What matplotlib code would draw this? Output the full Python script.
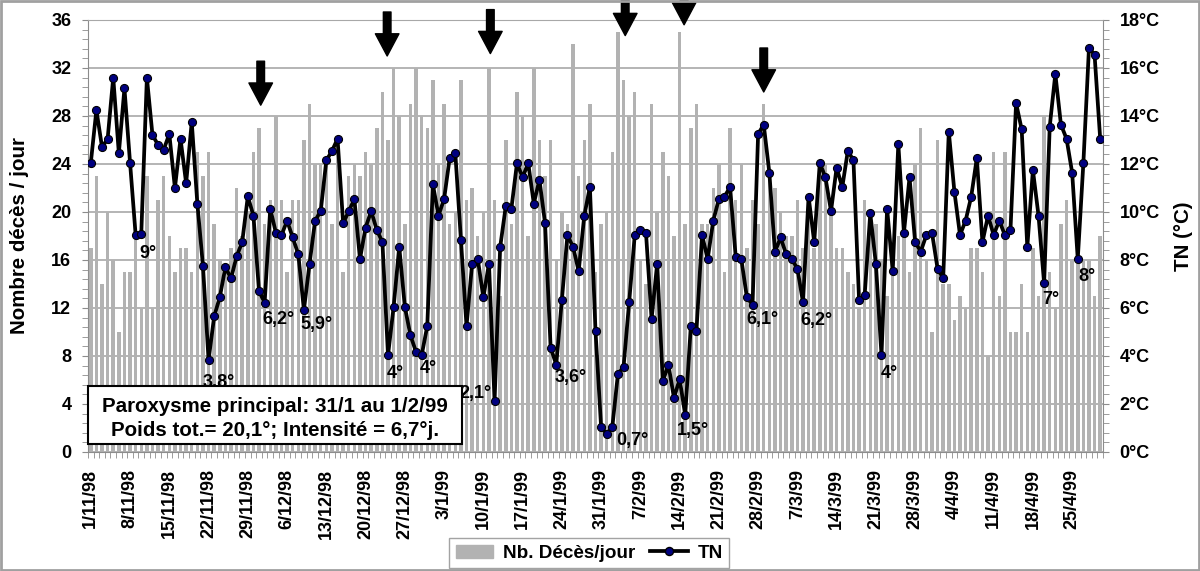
import numpy as np
import matplotlib
matplotlib.use("Agg")
import matplotlib.pyplot as plt
from matplotlib.ticker import MultipleLocator, FixedLocator
from matplotlib.patches import Patch, Rectangle
from matplotlib.lines import Line2D

plt.rcParams['font.family'] = ['Liberation Sans', 'DejaVu Sans']
plt.rcParams['font.weight'] = 'bold'

# deaths per day, 1/11/98 .. 30/4/99
deaths = [17, 23, 14, 20, 16, 10, 15, 15, 18, 12,
          23, 12, 21, 23, 18, 15, 17, 17, 15, 25,
          23, 25, 19, 16, 15, 17, 22, 18, 20, 25,
          27, 19, 21, 28, 21, 15, 21, 21, 26, 29,
          24, 24, 24, 19, 25, 15, 23, 24, 23, 25,
          24, 27, 30, 26, 32, 28, 19, 29, 32, 28,
          27, 31, 24, 29, 19, 20, 31, 21, 22, 18,
          20, 32, 21, 13, 26, 19, 30, 28, 18, 32,
          26, 23, 26, 16, 20, 19, 34, 23, 26, 29,
          15, 19, 20, 25, 35, 31, 28, 30, 16, 14,
          29, 20, 25, 23, 18, 35, 19, 27, 29, 19,
          19, 22, 24, 15, 27, 21, 24, 17, 21, 19,
          29, 23, 22, 20, 18, 18, 21, 17, 21, 17,
          24, 24, 20, 17, 17, 15, 14, 12, 21, 20,
          19, 16, 13, 16, 18, 18, 15, 24, 27, 16,
          10, 26, 14, 14, 11, 13, 12, 17, 17, 15,
          8, 25, 13, 25, 10, 10, 14, 10, 17, 13,
          28, 15, 12, 19, 21, 16, 16, 16, 16, 13,
          18]

# minimum temperature (°C)
tn = [12.05, 14.25, 12.7, 13.05, 15.6, 12.45, 15.15, 12.05, 9.03, 9.1,
      15.6, 13.2, 12.8, 12.6, 13.25, 11.0, 13.05, 11.2, 13.75, 10.35,
      7.75, 3.83, 5.65, 6.45, 7.7, 7.23, 8.15, 8.75, 10.65, 9.85,
      6.7, 6.22, 10.14, 9.14, 9.03, 9.64, 8.94, 8.24, 5.92, 7.83,
      9.64, 10.04, 12.15, 12.54, 13.05, 9.53, 10.04, 10.54, 8.04, 9.35,
      10.04, 9.25, 8.75, 4.03, 6.05, 8.55, 6.05, 4.86, 4.17, 4.03,
      5.25, 11.15, 9.85, 10.54, 12.25, 12.45, 8.85, 5.25, 7.85, 8.05,
      6.44, 7.85, 2.12, 8.54, 10.24, 10.14, 12.04, 11.44, 12.04, 10.35,
      11.35, 9.54, 4.35, 3.64, 6.33, 9.04, 8.54, 7.54, 9.85, 11.04,
      5.04, 1.05, 0.75, 1.05, 3.25, 3.54, 6.24, 9.04, 9.25, 9.14,
      5.54, 7.85, 2.94, 3.64, 2.25, 3.04, 1.54, 5.25, 5.04, 9.04,
      8.04, 9.64, 10.54, 10.64, 11.04, 8.14, 8.04, 6.44, 6.14, 13.25,
      13.64, 11.64, 8.33, 8.94, 8.24, 8.04, 7.64, 6.24, 10.64, 8.75,
      12.05, 11.44, 10.04, 11.85, 11.03, 12.55, 12.15, 6.33, 6.54, 9.94,
      7.83, 4.03, 10.14, 7.54, 12.83, 9.14, 11.44, 8.75, 8.35, 9.04,
      9.14, 7.64, 7.23, 13.35, 10.85, 9.04, 9.64, 10.64, 12.25, 8.74,
      9.85, 9.04, 9.64, 9.04, 9.25, 14.54, 13.44, 8.54, 11.75, 9.85,
      7.03, 13.56, 15.75, 13.64, 13.05, 11.64, 8.04, 12.04, 16.85, 16.54,
      13.05]

date_labels = ["1/11/98", "8/11/98", "15/11/98", "22/11/98", "29/11/98",
               "6/12/98", "13/12/98", "20/12/98", "27/12/98", "3/1/99",
               "10/1/99", "17/1/99", "24/1/99", "31/1/99", "7/2/99",
               "14/2/99", "21/2/99", "28/2/99", "7/3/99", "14/3/99",
               "21/3/99", "28/3/99", "4/4/99", "11/4/99", "18/4/99",
               "25/4/99"]

# labelled minima: day index, text, offset in pixels (dx, dy downward)
min_days = [9, 21, 31, 38, 53, 59, 72, 83, 92, 106, 118, 127, 141, 170, 176]
min_texts = ["9°", "3.8°", "6,2°", "5,9°", "4°", "4°", "2,1°", "3,6°", "0,7°",
             "1,5°", "6,1°", "6,2°", "4°", "7°", "8°"]
min_offsets = [(7, 20), (10, 22), (14, 17), (13, 15), (7, 18), (7, 13),
               (-19, -8), (14, 13), (26, 6), (8, 15), (10, 15), (13, 18),
               (8, 18), (7, 16), (9, 17)]

# arrows marking mortality peaks (day position, tip in deaths/day)
arrow_days = [30.3, 52.85, 71.25, 95.3, 105.8, 120.0]
arrow_tips = [28.9, 33.0, 33.2, 34.7, 35.6, 30.0]

bar_color = '#b2b2b2'
grid_color = '#a8a8a8'
spine_color = '#8c8c8c'
fs = 13

fig = plt.figure(figsize=(12, 5.71), dpi=100)
ax = fig.add_axes([88 / 1200, 1 - 452 / 571, 1015 / 1200, 432 / 571])

days = np.arange(len(deaths))
ax.bar(days, deaths, width=0.62, color=bar_color, zorder=2)
ax.set_xlim(-0.5, len(deaths) - 0.5)
ax.set_ylim(0, 36)
ax.yaxis.set_major_locator(MultipleLocator(4))
ax.yaxis.set_minor_locator(MultipleLocator(0.8))
ax.grid(axis='y', which='major', color=grid_color, lw=1.2, zorder=0)
ax.set_axisbelow(True)

ax.set_xticks(days[::7])
ax.set_xticklabels(date_labels, rotation=90, fontsize=fs, fontweight='bold')
ax.xaxis.set_minor_locator(FixedLocator(np.arange(-0.5, len(deaths), 1)))
ax.tick_params(axis='x', which='major', length=0, pad=12)
ax.tick_params(axis='x', which='minor', length=4, color=spine_color)
ax.tick_params(axis='y', which='both', length=4, color=spine_color, labelsize=fs)
ax.tick_params(axis='y', which='major', pad=8)
for lab in ax.get_yticklabels():
    lab.set_fontweight('bold')
ax.set_ylabel('Nombre décès / jour', fontsize=14.8, fontweight='bold', labelpad=16)

for s in ax.spines.values():
    s.set_color(spine_color)
ax.spines['top'].set_color(grid_color)

ax2 = ax.twinx()
ax2.plot(days, tn, '-o', color='black', lw=2.7, mfc='#000080', mec='black',
         ms=5.8, mew=0.8, zorder=3)
ax2.set_ylim(0, 18)
ax2.yaxis.set_major_locator(MultipleLocator(2))
ax2.yaxis.set_minor_locator(MultipleLocator(0.4))
ax2.set_yticks(range(0, 19, 2))
ax2.set_yticklabels([f"{v}°C" for v in range(0, 19, 2)], fontsize=fs,
                    fontweight='bold')
ax2.tick_params(axis='y', which='both', length=4, color=spine_color)
ax2.tick_params(axis='y', which='major', pad=8)
ax2.set_ylabel('TN (°C)', fontsize=14.8, fontweight='bold', labelpad=10)
for s in ax2.spines.values():
    s.set_visible(False)

for d, txt, (dx, dy) in zip(min_days, min_texts, min_offsets):
    ax2.annotate(txt, xy=(d, tn[d]), xytext=(dx, -dy), textcoords='offset pixels',
                 ha='center', va='center', fontsize=fs, fontweight='bold',
                 zorder=5)

for d, t in zip(arrow_days, arrow_tips):
    ax2.annotate('', xy=(d, t), xycoords=ax.transData, xytext=(0, 44),
                 textcoords='offset pixels', annotation_clip=False,
                 arrowprops=dict(facecolor='black', edgecolor='black', width=5.5,
                                 headwidth=17, headlength=16, shrink=0))

# information box
fig.patches.append(Rectangle((88 / 1200, 1 - 444 / 571), 374 / 1200, 58 / 571,
                             transform=fig.transFigure, facecolor='white',
                             edgecolor='black', lw=1.5, zorder=10))
fig.text(275 / 1200, 1 - 407 / 571, 'Paroxysme principal: 31/1 au 1/2/99',
         ha='center', va='center', fontsize=14.8, fontweight='bold', zorder=11)
fig.text(275 / 1200, 1 - 431 / 571, 'Poids tot.= 20,1°; Intensité = 6,7°j.',
         ha='center', va='center', fontsize=14.8, fontweight='bold', zorder=11)

handles = [Patch(facecolor=bar_color, edgecolor=bar_color),
           Line2D([], [], color='black', lw=2.7, marker='o', mfc='#000080',
                  mec='black', ms=5.8)]
leg = fig.legend(handles, ['Nb. Décès/jour', 'TN'], loc='lower center',
                 bbox_to_anchor=(0.491, -0.012), ncol=2, frameon=True,
                 fancybox=False, edgecolor=spine_color, fontsize=13.6,
                 handlelength=2.0, columnspacing=0.8, handletextpad=0.5,
                 borderpad=0.35)
for t in leg.get_texts():
    t.set_fontweight('bold')

fig.patches.append(Rectangle((0.001, 0.002), 0.998, 0.996, transform=fig.transFigure,
                             fill=False, edgecolor='#a0a0a0', lw=2))

fig.savefig('out.png', dpi=100)
